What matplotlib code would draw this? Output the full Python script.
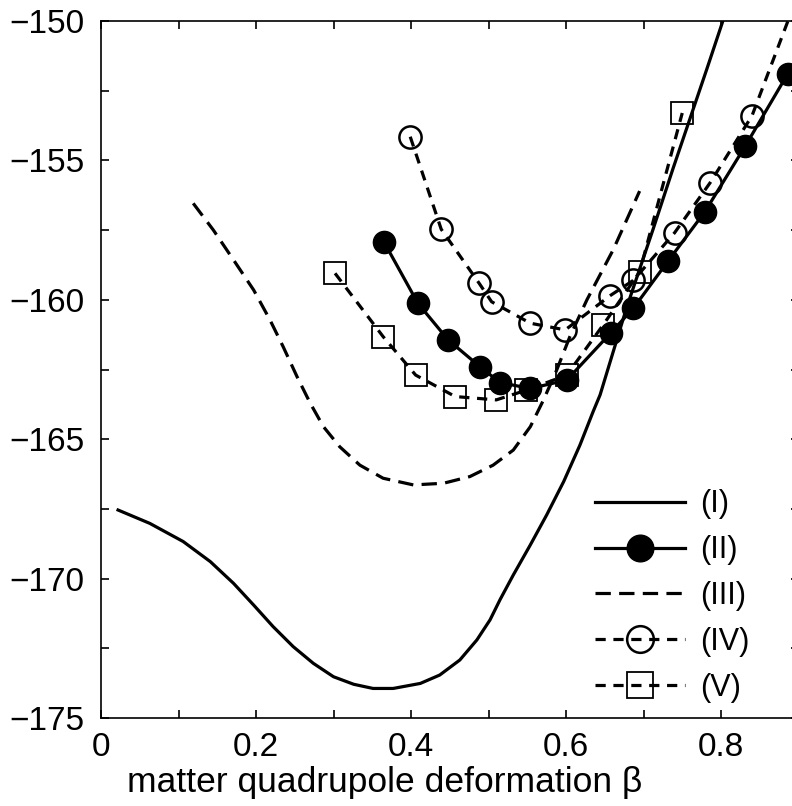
import matplotlib
matplotlib.use("Agg")
import matplotlib.pyplot as plt
from matplotlib.ticker import MultipleLocator

plt.rcParams['font.family'] = ['Liberation Sans', 'DejaVu Sans']

# curve (I): solid line
beta_1 = [0.022, 0.063, 0.106, 0.141, 0.171, 0.197, 0.222, 0.248, 0.274, 0.300,
          0.326, 0.351, 0.377, 0.412, 0.437, 0.463, 0.485, 0.502, 0.515, 0.532,
          0.554, 0.575, 0.597, 0.618, 0.635, 0.644, 0.678, 0.712, 0.738, 0.760,
          0.782, 0.806]
energy_1 = [-167.54, -168.02, -168.67, -169.39, -170.17, -170.95, -171.72, -172.44, -173.04, -173.52,
            -173.79, -173.94, -173.94, -173.76, -173.46, -172.92, -172.20, -171.48, -170.75, -169.87,
            -168.79, -167.72, -166.52, -165.21, -164.01, -163.41, -160.3, -157.5, -155.3, -153.5,
            -151.7, -149.7]

# curve (II): filled circles, solid line
beta_2 = [0.365, 0.409, 0.448, 0.489, 0.515, 0.554, 0.601, 0.658, 0.687, 0.732, 0.779, 0.831, 0.886]
energy_2 = [-157.92, -160.13, -161.44, -162.4, -162.97, -163.18, -162.88, -161.18, -160.3, -158.6,
            -156.85, -154.5, -151.9]

# curve (III): dashed line
beta_3 = [0.119, 0.145, 0.171, 0.197, 0.218, 0.235, 0.253, 0.270, 0.287, 0.308, 0.334,
          0.364, 0.403, 0.442, 0.476, 0.506, 0.532, 0.554, 0.571, 0.588, 0.605, 0.627,
          0.661, 0.695]
energy_3 = [-156.54, -157.50, -158.57, -159.65, -160.72, -161.68, -162.76, -163.71, -164.55, -165.27, -165.93,
            -166.40, -166.64, -166.58, -166.34, -165.93, -165.39, -164.55, -163.59, -162.52, -161.32, -160.0,
            -158.2, -156.1]

# curve (IV): open circles, dashed line
beta_4 = [0.399, 0.439, 0.488, 0.504, 0.554, 0.599, 0.657, 0.687, 0.740, 0.786, 0.840, 0.900]
energy_4 = [-154.15, -157.47, -159.41, -160.07, -160.84, -161.08, -159.85, -159.3, -157.6, -155.8,
            -153.4, -149.0]

# curve (V): open squares, dashed line
beta_5 = [0.302, 0.364, 0.406, 0.457, 0.510, 0.549, 0.601, 0.648, 0.695, 0.750]
energy_5 = [-159.05, -161.32, -162.7, -163.47, -163.59, -163.24, -162.7, -160.9, -159.0, -153.3]

labels = ['(I)', '(II)', '(III)', '(IV)', '(V)']

fig = plt.figure(figsize=(7.92, 8.06), dpi=100)
ax = fig.add_axes([101 / 792, 1 - 718 / 806, 697.5 / 792, 697 / 806])

lw = 2.3
ax.plot(beta_1, energy_1, color='black', lw=lw, label=labels[0])
ax.plot(beta_2, energy_2, color='black', lw=lw, marker='o', ms=16,
        markerfacecolor='black', label=labels[1])
ax.plot(beta_3, energy_3, color='black', lw=lw, dashes=(4.8, 2.6), label=labels[2])
ax.plot(beta_4, energy_4, color='black', lw=lw, dashes=(3.2, 2.4), marker='o', ms=16,
        markerfacecolor='none', markeredgewidth=1.8, label=labels[3])
ax.plot(beta_5, energy_5, color='black', lw=lw, dashes=(3.2, 2.4), marker='s', ms=16,
        markerfacecolor='none', markeredgewidth=1.3, label=labels[4])

ax.set_xlim(0, 0.9)
ax.set_ylim(-175, -150)
ax.xaxis.set_major_locator(MultipleLocator(0.2))
ax.xaxis.set_minor_locator(MultipleLocator(0.1))
ax.yaxis.set_major_locator(MultipleLocator(5))
ax.yaxis.set_minor_locator(MultipleLocator(2.5))
ax.set_xticks([0, 0.2, 0.4, 0.6, 0.8])
ax.set_xticklabels(['0', '0.2', '0.4', '0.6', '0.8'])
ax.tick_params(which='both', direction='in', top=True, right=True,
               length=6, width=1.2, labelsize=24)
ax.tick_params(axis='x', pad=10)
ax.tick_params(axis='y', pad=12)
for s in ax.spines.values():
    s.set_linewidth(1.2)

ax.set_xlabel('matter quadrupole deformation β', fontsize=25.5)
ax.xaxis.set_label_coords(0.407, -0.069)

leg = ax.legend(loc='upper left', bbox_to_anchor=(0.708, 0.328), frameon=False,
                fontsize=22, handlelength=2.94, handletextpad=0.5,
                labelspacing=0.52, numpoints=1, markerscale=1.2,
                borderaxespad=0, borderpad=0)

fig.savefig('out.png', dpi=100)
